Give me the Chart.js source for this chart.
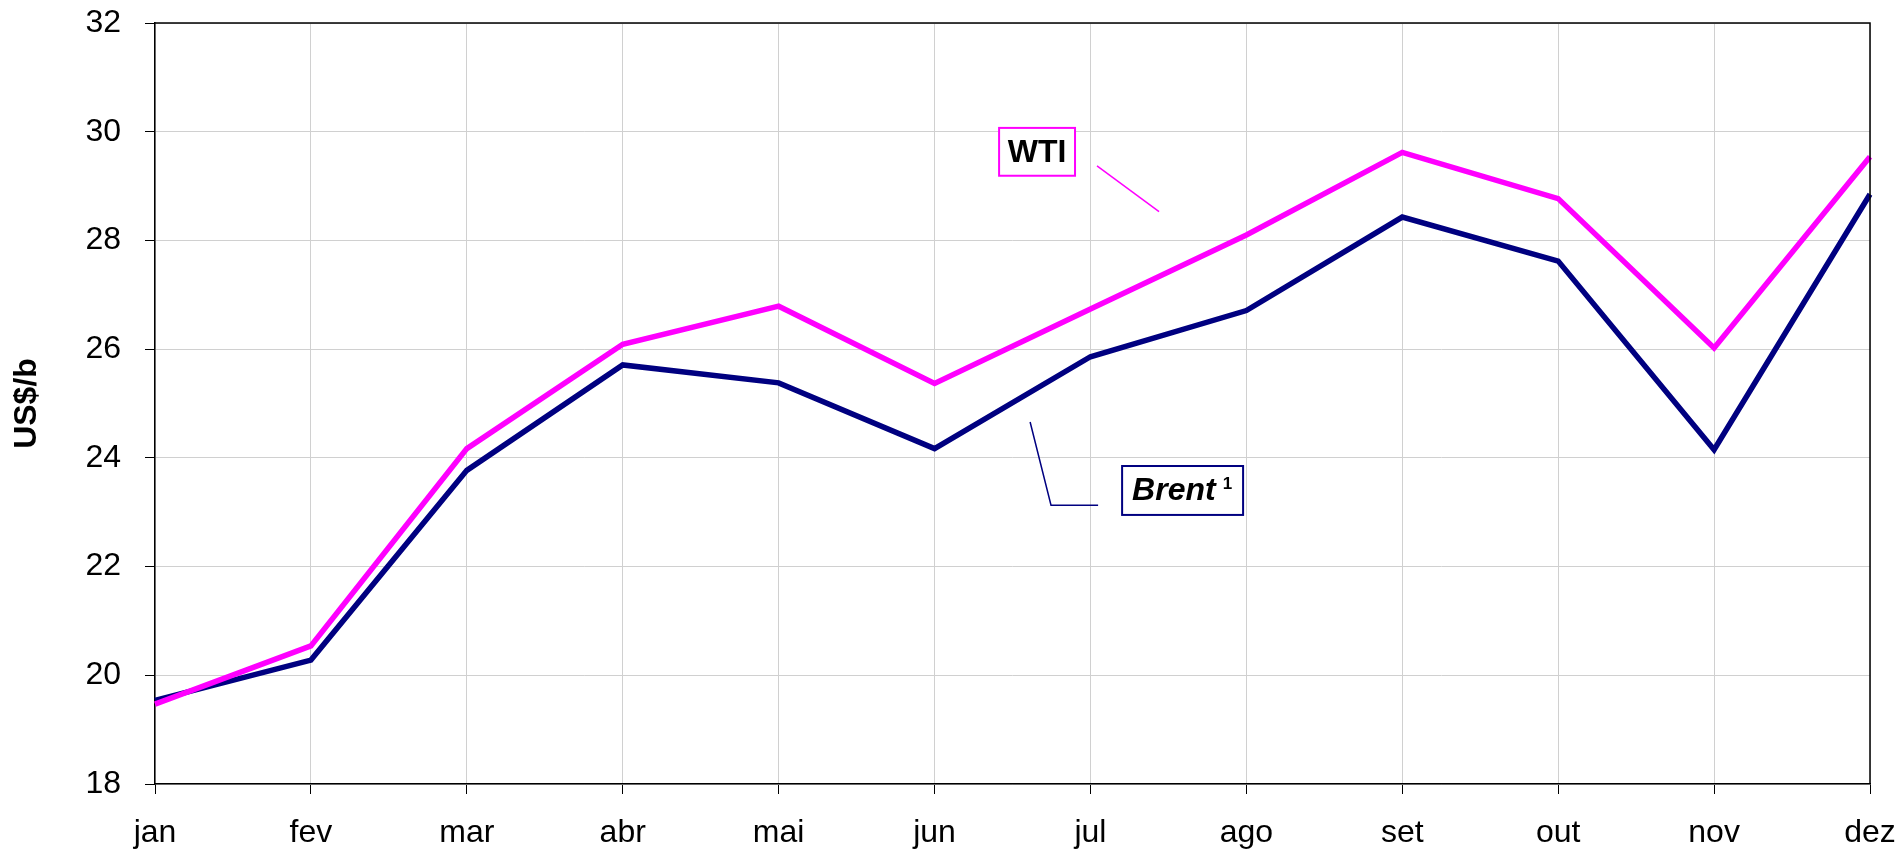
<!DOCTYPE html>
<html>
<head>
<meta charset="utf-8">
<script src="https://cdn.jsdelivr.net/npm/chart.js"></script>
<style>
  html, body { margin: 0; padding: 0; background: #fff; }
  #wrap { width: 1903px; height: 853px; }
</style>
</head>
<body>
<div id="wrap"><canvas id="l-chart" width="1903" height="853"></canvas></div>
<script>
// months
var months = ["jan", "fev", "mar", "abr", "mai", "jun", "jul", "ago", "set", "out", "nov", "dez"];

// prices US$/b
var wti = [19.47, 20.54, 24.17, 26.09, 26.79, 25.37, 26.74, 28.10, 29.62, 28.77, 26.02, 29.54];
var brent = [19.54, 20.28, 23.77, 25.71, 25.38, 24.17, 25.86, 26.71, 28.43, 27.62, 24.15, 28.85];

// y axis
var yMin = 18;
var yMax = 32;
var yStep = 2;

var fontName = "'Liberation Sans', Arial, sans-serif";

// frame on top/right + the two callout labels
var calloutPlugin = {
  id: 'callouts',
  afterDraw: function(chart) {
    var ctx = chart.ctx;
    var a = chart.chartArea;
    var xs = chart.scales.x;
    var ys = chart.scales.y;
    var X = function(v) { return xs.getPixelForValue(v); };
    var Y = function(v) { return ys.getPixelForValue(v); };

    ctx.save();
    ctx.strokeStyle = '#000';
    ctx.lineWidth = 1.5;
    ctx.beginPath();
    ctx.moveTo(a.left, a.top);
    ctx.lineTo(a.right, a.top);
    ctx.lineTo(a.right, a.bottom);
    ctx.stroke();

    // WTI
    ctx.strokeStyle = '#ff00ff';
    ctx.lineWidth = 1.5;
    ctx.beginPath();
    ctx.moveTo(X(6.042), Y(29.37));
    ctx.lineTo(X(6.44), Y(28.53));
    ctx.stroke();
    ctx.lineWidth = 2;
    var x0 = X(5.414), x1 = X(5.901), y0 = Y(30.07), y1 = Y(29.19);
    ctx.fillStyle = '#fff';
    ctx.fillRect(x0, y0, x1 - x0, y1 - y0);
    ctx.strokeRect(x0, y0, x1 - x0, y1 - y0);
    ctx.fillStyle = '#000';
    ctx.font = 'bold 32px ' + fontName;
    ctx.textAlign = 'center';
    ctx.textBaseline = 'middle';
    ctx.fillText('WTI', (x0 + x1) / 2, (y0 + y1) / 2 + 1);

    // Brent
    ctx.strokeStyle = '#000080';
    ctx.lineWidth = 1.5;
    ctx.beginPath();
    ctx.moveTo(X(5.613), Y(24.66));
    ctx.lineTo(X(5.747), Y(23.13));
    ctx.lineTo(X(6.049), Y(23.13));
    ctx.stroke();
    ctx.lineWidth = 2;
    x0 = X(6.203); x1 = X(6.979); y0 = Y(23.85); y1 = Y(22.95);
    ctx.fillStyle = '#fff';
    ctx.fillRect(x0, y0, x1 - x0, y1 - y0);
    ctx.strokeRect(x0, y0, x1 - x0, y1 - y0);
    ctx.fillStyle = '#000';
    ctx.font = 'italic bold 32px ' + fontName;
    ctx.textAlign = 'left';
    ctx.fillText('Brent', x0 + 10, (y0 + y1) / 2 + 1);
    var w = ctx.measureText('Brent').width;
    ctx.font = 'bold 17px ' + fontName;
    ctx.fillText('1', x0 + 10 + w + 7, (y0 + y1) / 2 - 6);
    ctx.restore();
  }
};

new Chart(document.getElementById("l-chart"), {
  type: 'line',
  data: {
    labels: months,
    datasets: [{
      label: "WTI",
      data: wti,
      borderColor: "#ff00ff",
      backgroundColor: "#ff00ff",
      borderWidth: 5.5,
      pointRadius: 0,
      tension: 0
    }, {
      label: "Brent",
      data: brent,
      borderColor: "#000080",
      backgroundColor: "#000080",
      borderWidth: 5.5,
      pointRadius: 0,
      tension: 0
    }]
  },
  options: {
    responsive: false,
    animation: false,
    layout: { padding: { top: 23, right: 33, bottom: 0, left: 0 } },
    plugins: {
      legend: { display: false },
      tooltip: { enabled: false }
    },
    scales: {
      x: {
        offset: false,
        grid: { color: '#d0d0d0', tickColor: '#000', tickLength: 10, lineWidth: 1 },
        border: { color: '#000', width: 1.5 },
        ticks: { color: '#000', padding: 20, font: { family: fontName, size: 32 }, maxRotation: 0 },
        afterFit: function(scale) {
          scale.height = 69;
          scale.paddingLeft = 0;
          scale.paddingRight = 0;
        }
      },
      y: {
        min: yMin,
        max: yMax,
        ticks: { stepSize: yStep, color: '#000', padding: 24, font: { family: fontName, size: 32 } },
        grid: { color: '#d0d0d0', tickColor: '#000', tickLength: 10, lineWidth: 1 },
        border: { color: '#000', width: 1.5 },
        title: {
          display: true,
          text: 'US$/b',
          color: '#000',
          font: { family: fontName, size: 32, weight: 'bold' },
          padding: { top: 8, bottom: 0 }
        },
        afterFit: function(scale) {
          scale.width = 155;
          scale.paddingTop = 0;
          scale.paddingBottom = 0;
        }
      }
    }
  },
  plugins: [calloutPlugin]
});
</script>
</body>
</html>
